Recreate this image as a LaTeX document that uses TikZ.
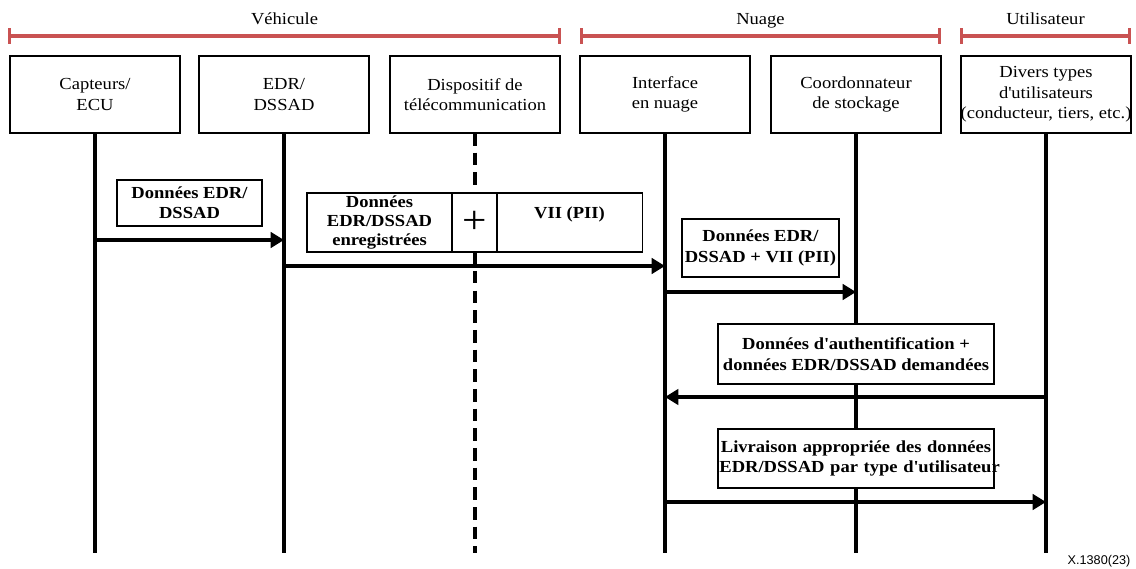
\documentclass[tikz,border=0pt]{standalone}
\usepackage{fontspec}
\setmainfont{Liberation Serif}[FakeStretch=1.1]
\newfontfamily\labelfont{Liberation Sans}
\usetikzlibrary{positioning,arrows.meta}
\definecolor{groupred}{RGB}{201,82,82}

\begin{document}
\begin{tikzpicture}[x=0.025cm, y=-0.025cm, font=\fontsize{12}{14.5}\selectfont]
    % Node styles
    \tikzstyle{actor} = [rectangle, draw, line width=0.8pt, minimum width=4.25cm, minimum height=1.925cm, align=center, inner sep=1pt, outer sep=0pt]
    \tikzstyle{msgbox} = [rectangle, draw, fill=white, line width=0.8pt, align=center, inner sep=1pt, outer sep=0pt, font=\fontsize{12}{14.5}\selectfont\bfseries]
    \tikzstyle{grouplabel} = [text height=8.5pt, text depth=2.5pt]
    \tikzstyle{life} = [line width=2.2pt]
    \tikzstyle{radio} = [life, dash pattern=on 9pt off 5pt]
    \tikzstyle{arrow} = [line width=2.2pt, -{Triangle[length=9.5pt,width=11pt]}]
    \tikzstyle{group} = [draw=groupred, line width=2.2pt, {Bar[width=11pt]}-{Bar[width=11pt]}]

    \useasboundingbox (0,0) rectangle (1136,569);

    % Groups
    \node (vehicule) at (284.5, 20) [grouplabel] {Véhicule};
    \node (nuage) at (760.5, 20) [grouplabel] {Nuage};
    \node (util) at (1045.5, 20) [grouplabel] {Utilisateur};
    \coordinate (vehL) at (8, 36);
    \coordinate (vehR) at (561, 36);
    \coordinate (nuaL) at (580, 36);
    \coordinate (nuaR) at (941, 36);
    \coordinate (utiL) at (960, 36);
    \coordinate (utiR) at (1131, 36);
    \draw[group] (vehL) -- (vehR);
    \draw[group] (nuaL) -- (nuaR);
    \draw[group] (utiL) -- (utiR);

    % Nodes
    \node (capteurs) at (95, 94.5) [actor] {Capteurs/\\ECU};
    \node (edr) at (284, 94.5) [actor] {EDR/\\DSSAD};
    \node (telecom) at (475, 94.5) [actor] {Dispositif de\\télécommunication};
    \node (interface) at (665, 94.5) [actor] {Interface\\en nuage};
    \node (stockage) at (856, 94.5) [actor] {Coordonnateur\\de stockage};
    \node (users) at (1046, 94.5) [actor] {Divers types\\d\textquotesingle utilisateurs\\\makebox[0pt]{(conducteur, tiers, etc.)}};

    % Lifelines
    \coordinate (bottom) at (0, 553);
    \draw[life] (capteurs) -- (capteurs |- bottom);
    \draw[life] (edr) -- (edr |- bottom);
    \draw[radio] (telecom) -- (telecom |- bottom);
    \draw[life] (interface) -- (interface |- bottom);
    \draw[life] (stockage) -- (stockage |- bottom);
    \draw[life] (users) -- (users |- bottom);

    % Messages
    \node (m1) at (189.5, 203) [msgbox, minimum width=3.625cm, minimum height=1.15cm] {Données EDR/\\DSSAD};
    \node (m2a) at (379.5, 222.5) [msgbox, minimum width=3.625cm, minimum height=1.475cm, font=\fontsize{12}{13.5}\selectfont\bfseries] {Données\\EDR/DSSAD\\enregistrées};
    \node (m2b) [msgbox, right=0pt of m2a, minimum width=1.125cm, minimum height=1.475cm, font=\fontsize{28}{28}\selectfont] {+};
    \node (m2c) [msgbox, right=0pt of m2b, minimum width=3.625cm, minimum height=1.475cm, text height=9pt, text depth=15pt] {VII (PII)};
    \node (m3) at (760.5, 248) [msgbox, minimum width=3.925cm, minimum height=1.45cm] {Données EDR/\\DSSAD + VII (PII)};
    \node (m4) at (856, 354) [msgbox, minimum width=6.9cm, minimum height=1.5cm] {Données d\textquotesingle authentification +\\données EDR/DSSAD demandées};
    \node (m5) at (856, 458.5) [msgbox, text width=6.9cm-2pt, minimum height=1.475cm] {\mbox{Livraison appropriée des données}\\\mbox{EDR/DSSAD par type d\textquotesingle utilisateur}};

    % Arrows
    \coordinate (y1) at (0, 240);
    \coordinate (y2) at (0, 266);
    \coordinate (y3) at (0, 292);
    \coordinate (y4) at (0, 397);
    \coordinate (y5) at (0, 502);
    \draw[arrow] (capteurs |- y1) -- (edr |- y1);
    \draw[arrow] (edr |- y2) -- (interface |- y2);
    \draw[arrow] (interface |- y3) -- (stockage |- y3);
    \draw[arrow] (users |- y4) -- (interface |- y4);
    \draw[arrow] (interface |- y5) -- (users |- y5);

    % Label
    \node (figref) at (1099, 561) {\labelfont\fontsize{9}{10}\selectfont X.1380(23)};

\end{tikzpicture}
\end{document}
